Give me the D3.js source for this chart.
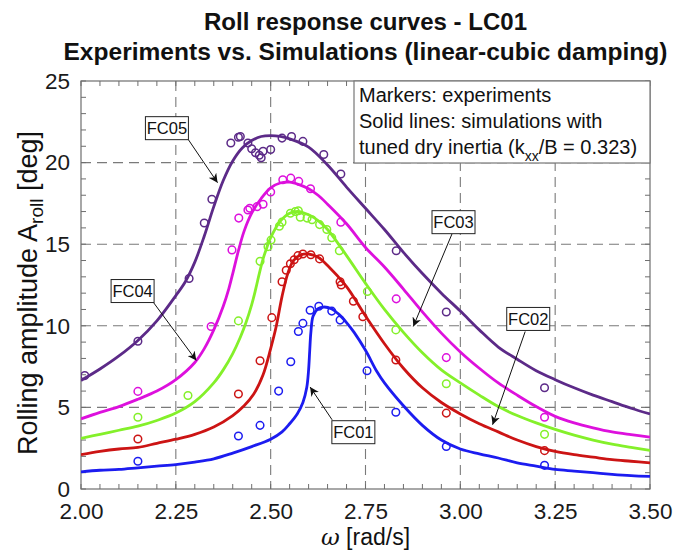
<!DOCTYPE html>
<html>
<head>
<meta charset="utf-8">
<script src="https://cdn.jsdelivr.net/npm/d3@7"></script>
<style>
  body { margin: 0; background: #fff; }
  svg { font-family: "Liberation Sans", Arial, sans-serif; }
</style>
</head>
<body>
<svg id="chart" width="673" height="550"></svg>
<script>
// axis ticks
const omegaTicks = [2.00, 2.25, 2.50, 2.75, 3.00, 3.25, 3.50];
const ampTicks = [0, 5, 10, 15, 20, 25];

// simulations (solid lines), [omega, amplitude]
const simFC01 = [[2.00,1.05],[2.05,1.15],[2.10,1.2],[2.15,1.3],[2.20,1.4],[2.25,1.5],[2.30,1.65],[2.35,1.85],[2.40,2.2],[2.45,2.6],[2.50,3.05],[2.53,3.5],[2.55,4.0],[2.57,4.6],[2.585,5.3],[2.595,6.2],[2.60,7.3],[2.603,8.5],[2.606,9.6],[2.612,10.6],[2.625,11.05],[2.64,11.15],[2.66,11.05],[2.68,10.7],[2.70,10.2],[2.72,9.6],[2.75,8.5],[2.78,7.2],[2.80,6.5],[2.85,5.1],[2.90,3.9],[2.95,3.0],[3.00,2.45],[3.05,2.15],[3.10,1.9],[3.15,1.6],[3.20,1.4],[3.25,1.2],[3.30,1.1],[3.35,1.0],[3.40,0.9],[3.45,0.82],[3.50,0.77]];
const simFC02 = [[2.00,2.1],[2.05,2.3],[2.10,2.45],[2.15,2.55],[2.20,2.8],[2.25,3.05],[2.30,3.35],[2.35,3.8],[2.40,4.5],[2.43,5.1],[2.455,5.8],[2.48,7.0],[2.50,8.6],[2.515,10.0],[2.53,11.8],[2.545,13.2],[2.56,14.0],[2.58,14.35],[2.60,14.4],[2.625,14.2],[2.65,13.7],[2.70,12.4],[2.75,10.6],[2.80,8.9],[2.85,7.4],[2.90,6.2],[2.95,5.3],[3.00,4.6],[3.05,4.0],[3.10,3.5],[3.15,3.0],[3.20,2.6],[3.25,2.3],[3.30,2.1],[3.35,1.95],[3.40,1.8],[3.45,1.7],[3.50,1.6]];
const simFC03 = [[2.00,3.1],[2.05,3.35],[2.10,3.6],[2.15,3.85],[2.20,4.2],[2.25,4.65],[2.30,5.35],[2.35,6.5],[2.375,7.3],[2.40,8.3],[2.42,9.3],[2.435,10.2],[2.45,11.3],[2.46,12.2],[2.47,13.2],[2.48,14.1],[2.49,14.8],[2.50,15.4],[2.525,16.4],[2.55,16.9],[2.575,17.0],[2.60,16.8],[2.625,16.45],[2.65,15.9],[2.70,14.3],[2.75,12.6],[2.80,11.0],[2.85,9.6],[2.90,8.35],[2.95,7.3],[3.00,6.5],[3.05,5.75],[3.10,5.05],[3.15,4.5],[3.20,4.05],[3.25,3.65],[3.30,3.3],[3.35,3.0],[3.40,2.75],[3.45,2.55],[3.50,2.36]];
const simFC04 = [[2.00,4.3],[2.05,4.7],[2.10,5.05],[2.15,5.5],[2.20,6.0],[2.25,6.7],[2.30,7.75],[2.325,8.6],[2.35,9.75],[2.375,11.2],[2.39,12.3],[2.40,13.2],[2.415,14.6],[2.43,15.8],[2.45,16.9],[2.475,17.8],[2.50,18.45],[2.525,18.75],[2.55,18.8],[2.575,18.65],[2.60,18.4],[2.625,18.0],[2.65,17.45],[2.70,16.25],[2.75,14.8],[2.80,13.6],[2.85,12.25],[2.90,10.85],[2.95,9.55],[3.00,8.4],[3.05,7.4],[3.10,6.5],[3.15,5.75],[3.20,5.05],[3.25,4.45],[3.30,4.05],[3.35,3.75],[3.40,3.5],[3.45,3.33],[3.50,3.18]];
const simFC05 = [[2.00,6.65],[2.05,7.35],[2.10,8.15],[2.15,9.1],[2.20,10.3],[2.25,11.85],[2.275,12.7],[2.30,13.9],[2.325,15.5],[2.35,17.3],[2.375,18.9],[2.40,20.1],[2.425,20.9],[2.45,21.35],[2.475,21.6],[2.50,21.65],[2.525,21.6],[2.55,21.45],[2.60,20.95],[2.65,19.85],[2.70,18.5],[2.75,17.2],[2.80,15.9],[2.85,14.5],[2.90,13.2],[2.95,12.0],[3.00,10.9],[3.05,9.75],[3.10,8.7],[3.15,7.95],[3.20,7.25],[3.25,6.7],[3.30,6.2],[3.35,5.75],[3.40,5.35],[3.45,4.95],[3.50,4.6]];

// experiments (markers)
const expFC01 = [[2.15,1.7],[2.415,3.25],[2.472,3.9],[2.521,6.0],[2.553,7.8],[2.573,9.65],[2.585,10.15],[2.604,10.95],[2.627,11.2],[2.661,10.9],[2.683,10.35],[2.754,7.25],[2.830,4.7],[2.963,2.6],[3.222,1.45]];
const expFC02 = [[2.15,3.06],[2.415,5.82],[2.472,7.86],[2.503,10.5],[2.530,12.7],[2.541,13.4],[2.552,13.8],[2.562,14.05],[2.572,14.3],[2.585,14.4],[2.606,14.35],[2.629,14.1],[2.683,12.7],[2.686,12.5],[2.718,11.5],[2.743,10.55],[2.830,7.9],[2.963,4.65],[3.222,2.35]];
const expFC03 = [[2.15,4.4],[2.282,5.73],[2.415,10.3],[2.472,13.95],[2.493,14.85],[2.501,15.25],[2.523,16.1],[2.530,16.35],[2.552,16.9],[2.565,17.0],[2.573,17.05],[2.578,16.65],[2.596,16.6],[2.609,16.5],[2.629,16.2],[2.648,15.9],[2.661,15.4],[2.681,14.6],[2.755,12.1],[2.830,9.75],[2.963,6.45],[3.222,3.35]];
const expFC04 = [[2.15,5.98],[2.343,9.96],[2.398,14.65],[2.416,16.6],[2.44,17.1],[2.445,17.2],[2.464,17.3],[2.48,17.45],[2.50,18.2],[2.532,18.95],[2.553,19.05],[2.574,18.85],[2.605,18.4],[2.685,16.35],[2.831,11.65],[2.963,8.05],[3.222,4.4]];
const expFC05 = [[2.01,6.95],[2.15,9.05],[2.285,12.9],[2.325,16.3],[2.345,17.75],[2.395,21.2],[2.415,21.55],[2.42,21.6],[2.44,21.2],[2.45,20.85],[2.46,20.6],[2.47,20.45],[2.475,20.3],[2.48,20.7],[2.50,20.8],[2.53,21.5],[2.555,21.6],[2.585,21.3],[2.64,20.5],[2.685,19.3],[2.831,14.6],[2.963,10.85],[3.222,6.2]];

const seriesNames = ['FC01', 'FC02', 'FC03', 'FC04', 'FC05'];
const seriesColors = ['#1c1cf0', '#cc1414', '#84f02a', '#dd10dd', '#5c2a88'];

// text-box labels: box centre, arrow start, arrow tip (data units)
const labelNames = ['FC05', 'FC04', 'FC03', 'FC02', 'FC01'];
const labelAt = [[2.2265,22.11],[2.136,12.13],[2.982,16.35],[3.179,10.42],[2.718,3.48]];
const arrowFrom = [[2.2835,21.39],[2.191,11.43],[2.978,15.63],[3.171,9.65],[2.662,4.24]];
const arrowTo = [[2.36,18.77],[2.304,7.87],[2.876,9.96],[3.085,3.94],[2.604,6.25]];

const noteLines = ['Markers: experiments', 'Solid lines: simulations with'];

const width = 673, height = 550;
const margin = {top: 81, right: 23, bottom: 61, left: 81};
const innerW = width - margin.left - margin.right;
const innerH = height - margin.top - margin.bottom;

const svg = d3.select('#chart');
const g = svg.append('g').attr('transform', `translate(${margin.left},${margin.top})`);

const x = d3.scaleLinear().domain([2.0, 3.5]).range([0, innerW]);
const y = d3.scaleLinear().domain([0, 25]).range([innerH, 0]);

// grid
g.append('g').selectAll('line.vgrid')
  .data(omegaTicks.slice(1, -1))
  .join('line')
    .attr('x1', d => x(d)).attr('x2', d => x(d))
    .attr('y1', 0).attr('y2', innerH)
    .attr('stroke', '#7a7a7a').attr('stroke-width', 1.1)
    .attr('stroke-dasharray', '10,6');
g.append('g').selectAll('line.hgrid')
  .data(ampTicks.slice(1, -1))
  .join('line')
    .attr('x1', 0).attr('x2', innerW)
    .attr('y1', d => y(d)).attr('y2', d => y(d))
    .attr('stroke', '#7a7a7a').attr('stroke-width', 1.1)
    .attr('stroke-dasharray', '10,6');

// minor ticks (inside, all four sides)
const minorX = d3.range(2.0, 3.5001, 0.05);
const minorY = d3.range(0, 25.001, 1);
const tickLen = 5;
const tickG = g.append('g').attr('stroke', '#6e6e6e').attr('stroke-width', 1);
minorX.forEach(v => {
  tickG.append('line').attr('x1', x(v)).attr('x2', x(v)).attr('y1', innerH).attr('y2', innerH - tickLen);
  tickG.append('line').attr('x1', x(v)).attr('x2', x(v)).attr('y1', 0).attr('y2', tickLen);
});
minorY.forEach(v => {
  tickG.append('line').attr('x1', 0).attr('x2', tickLen).attr('y1', y(v)).attr('y2', y(v));
  tickG.append('line').attr('x1', innerW).attr('x2', innerW - tickLen).attr('y1', y(v)).attr('y2', y(v));
});

// axes with labels only
const xAxis = g.append('g')
  .attr('transform', `translate(0,${innerH})`)
  .call(d3.axisBottom(x).tickValues(omegaTicks).tickFormat(d3.format('.2f')).tickSize(0).tickPadding(14));
const yAxis = g.append('g')
  .call(d3.axisLeft(y).tickValues(ampTicks).tickSize(0).tickPadding(11));
[xAxis, yAxis].forEach(a => {
  a.select('.domain').remove();
  a.selectAll('text').attr('font-size', 22.5).attr('fill', '#1a1a1a')
    .attr('font-family', '"Liberation Sans", Arial, sans-serif');
});

// frame
g.append('rect').attr('width', innerW).attr('height', innerH)
  .attr('fill', 'none').attr('stroke', '#6e6e6e').attr('stroke-width', 1.2);

// curves
const plot = g.append('g');
svg.append('clipPath').attr('id', 'clip').append('rect').attr('width', innerW).attr('height', innerH);
plot.attr('clip-path', 'url(#clip)');

const line = d3.line().x(d => x(d[0])).y(d => y(d[1])).curve(d3.curveCatmullRom.alpha(0.5));
const sims = [simFC01, simFC02, simFC03, simFC04, simFC05];
const exps = [expFC01, expFC02, expFC03, expFC04, expFC05];

seriesNames.forEach((name, i) => {
  plot.append('path')
    .datum(sims[i])
    .attr('fill', 'none')
    .attr('stroke', seriesColors[i])
    .attr('stroke-width', 2.8)
    .attr('stroke-linejoin', 'round')
    .attr('d', line);
});
seriesNames.forEach((name, i) => {
  plot.append('g').selectAll('circle')
    .data(exps[i])
    .join('circle')
      .attr('cx', d => x(d[0]))
      .attr('cy', d => y(d[1]))
      .attr('r', 3.8)
      .attr('fill', 'none')
      .attr('stroke', seriesColors[i])
      .attr('stroke-width', 1.5);
});

// arrows + label boxes
svg.append('defs').append('marker')
  .attr('id', 'head').attr('viewBox', '0 0 10 10')
  .attr('refX', 10).attr('refY', 5)
  .attr('markerWidth', 9).attr('markerHeight', 9)
  .attr('markerUnits', 'userSpaceOnUse')
  .attr('orient', 'auto')
  .append('path').attr('d', 'M0,0 L10,5 L0,10 L3,5 Z').attr('fill', '#111');

labelNames.forEach((name, i) => {
  g.append('line')
    .attr('x1', x(arrowFrom[i][0])).attr('y1', y(arrowFrom[i][1]))
    .attr('x2', x(arrowTo[i][0])).attr('y2', y(arrowTo[i][1]))
    .attr('stroke', '#111').attr('stroke-width', 1)
    .attr('marker-end', 'url(#head)');
  const cx = x(labelAt[i][0]), cy = y(labelAt[i][1]);
  g.append('rect')
    .attr('x', cx - 21.5).attr('y', cy - 11.5)
    .attr('width', 43).attr('height', 23)
    .attr('fill', '#fff').attr('stroke', '#222').attr('stroke-width', 1);
  g.append('text')
    .attr('x', cx).attr('y', cy + 6)
    .attr('text-anchor', 'middle')
    .attr('font-size', 16.5).attr('fill', '#111')
    .text(name);
});

// note box
const note = g.append('g').attr('transform', `translate(${innerW - 296},0)`);
note.append('rect').attr('width', 296).attr('height', 82)
  .attr('fill', '#fff').attr('stroke', '#777').attr('stroke-width', 1.2);
noteLines.forEach((t, i) => {
  note.append('text').attr('x', 5).attr('y', 21 + i * 26)
    .attr('font-size', 20).attr('fill', '#111').text(t);
});
const last = note.append('text').attr('x', 5).attr('y', 73).attr('font-size', 20).attr('fill', '#111');
last.append('tspan').text('tuned dry inertia (k');
last.append('tspan').attr('font-size', 14).attr('dy', 7).text('xx');
last.append('tspan').attr('dy', -7).text('/B = 0.323)');

// titles
const titleG = svg.append('g').attr('font-weight', 'bold').attr('fill', '#111').attr('text-anchor', 'middle');
titleG.append('text').attr('x', margin.left + innerW / 2).attr('y', 30).attr('font-size', 23)
  .attr('textLength', 323).attr('lengthAdjust', 'spacingAndGlyphs')
  .text('Roll response curves - LC01');
titleG.append('text').attr('x', margin.left + innerW / 2).attr('y', 60).attr('font-size', 23)
  .attr('textLength', 604).attr('lengthAdjust', 'spacingAndGlyphs')
  .text('Experiments vs. Simulations (linear-cubic damping)');

// axis titles
const xl = svg.append('text')
  .attr('x', margin.left + innerW / 2).attr('y', 545)
  .attr('text-anchor', 'middle').attr('font-size', 23).attr('fill', '#111');
xl.append('tspan').attr('font-style', 'italic').attr('font-family', '"DejaVu Serif", serif').text('ω');
xl.append('tspan').text(' [rad/s]');

const yl = svg.append('text')
  .attr('transform', `translate(37,${margin.top + innerH / 2 + 8}) rotate(-90)`)
  .attr('text-anchor', 'middle').attr('font-size', 27).attr('fill', '#111');
yl.append('tspan').text('Rolling amplitude A');
yl.append('tspan').attr('font-size', 19).attr('dy', 6).text('roll');
yl.append('tspan').attr('dy', -6).text(' [deg]');
</script>
</body>
</html>
